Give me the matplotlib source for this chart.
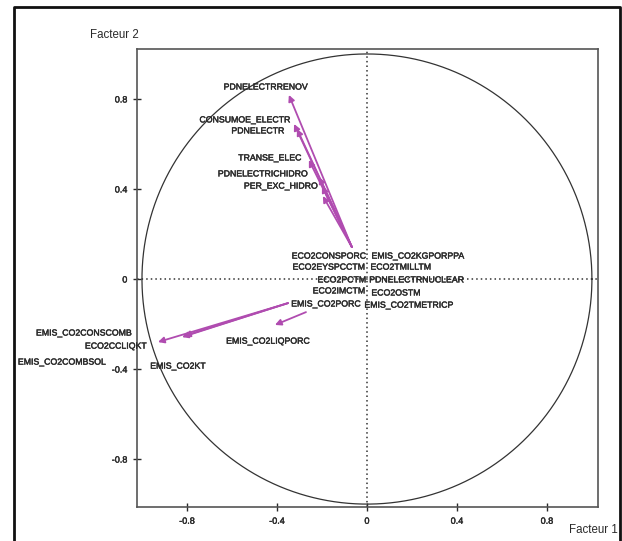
import numpy as np
import matplotlib.pyplot as plt
import matplotlib.patheffects as pe
from matplotlib.lines import Line2D

plt.rcParams['font.family'] = ['Liberation Sans', 'DejaVu Sans']

# nomi delle variabili e posizione delle etichette (coordinate fattoriali)
labels = ["PDNELECTRRENOV", "CONSUMOE_ELECTR", "PDNELECTR", "TRANSE_ELEC",
          "PDNELECTRICHIDRO", "PER_EXC_HIDRO", "ECO2CONSPORC", "EMIS_CO2KGPORPPA",
          "ECO2EYSPCCTM", "ECO2TMILLTM", "ECO2PCTM", "PDNELECTRNUCLEAR",
          "ECO2IMCTM", "ECO2OSTM", "EMIS_CO2PORC", "EMIS_CO2TMETRICP",
          "EMIS_CO2LIQPORC", "EMIS_CO2CONSCOMB", "ECO2CCLIQKT", "EMIS_CO2COMBSOL",
          "EMIS_CO2KT"]
label_x = [-0.449, -0.542, -0.484, -0.431, -0.462, -0.382, -0.169, 0.227,
           -0.169, 0.151, -0.111, 0.222, -0.124, 0.129, -0.182, 0.187,
           -0.440, -1.258, -1.116, -1.356, -0.840]
label_y = [0.853, 0.707, 0.658, 0.538, 0.467, 0.413, 0.102, 0.102,
           0.053, 0.053, -0.004, -0.004, -0.053, -0.062, -0.111, -0.116,
           -0.276, -0.240, -0.298, -0.369, -0.387]

# frecce: origine e punta
arrow_x0 = [-0.067, -0.067, -0.067, -0.067, -0.067, -0.067, -0.067,
            -0.351, -0.351, -0.351, -0.271]
arrow_y0 = [0.142, 0.142, 0.142, 0.142, 0.142, 0.142, 0.142,
            -0.107, -0.107, -0.107, -0.147]
arrow_x1 = [-0.347, -0.324, -0.311, -0.258, -0.213, -0.200, -0.196,
            -0.929, -0.822, -0.813, -0.409]
arrow_y1 = [0.818, 0.689, 0.667, 0.529, 0.453, 0.413, 0.369,
            -0.280, -0.258, -0.253, -0.204]

ticks = [-0.8, -0.4, 0, 0.4, 0.8]
tick_labels = ["-0.8", "-0.4", "0", "0.4", "0.8"]

thick = [pe.withStroke(linewidth=0.3, foreground='#2a2a2a')]

fig = plt.figure(figsize=(6.22, 5.41), dpi=100)
ax = fig.add_axes([0.2203, 0.0628, 0.7411, 0.8466])
ax.set_xlim(-1.022, 1.027)
ax.set_ylim(-1.013, 1.022)

# cerchio delle correlazioni
t = np.linspace(0, 2 * np.pi, 400)
ax.plot(np.cos(t), np.sin(t), color='#333333', lw=0.9)
ax.axhline(0, color='#333333', lw=1.1, ls=(0, (1, 2)))
ax.axvline(0, color='#333333', lw=1.1, ls=(0, (1, 2)))

for x0, y0, x1, y1 in zip(arrow_x0, arrow_y0, arrow_x1, arrow_y1):
    ax.annotate("", xy=(x1, y1), xytext=(x0, y0),
                arrowprops=dict(arrowstyle='-|>', color='#b04cb0', lw=1.3,
                                mutation_scale=9, shrinkA=0, shrinkB=0))

for lab, x, y in zip(labels, label_x, label_y):
    ax.text(x, y, lab, fontsize=6.3, color='#2a2a2a', ha='center', va='center',
            path_effects=thick)

ax.set_xticks(ticks)
ax.set_xticklabels(tick_labels)
ax.set_yticks(ticks)
ax.set_yticklabels(tick_labels)
ax.tick_params(direction='inout', length=6, width=1, labelsize=6.5,
               colors='#2a2a2a', pad=4)
for lab in ax.get_xticklabels() + ax.get_yticklabels():
    lab.set_path_effects(thick)
for s in ax.spines.values():
    s.set_color('#555555')
    s.set_linewidth(1.2)

fig.text(114 / 622, 1 - 35 / 541, "Facteur 2", fontsize=8.3, ha='center', va='center',
         color='#2a2a2a')
fig.text(593 / 622, 1 - 530 / 541, "Facteur 1", fontsize=8.3, ha='center', va='center',
         color='#2a2a2a')

# cornice esterna
fx = [14 / 622, 14 / 622, 620 / 622, 620 / 622]
fy = [-0.05, 1 - 7 / 541, 1 - 7 / 541, -0.05]
fig.add_artist(Line2D(fx, fy, color='#111111', lw=2, transform=fig.transFigure))

fig.savefig("out.png", dpi=100)
